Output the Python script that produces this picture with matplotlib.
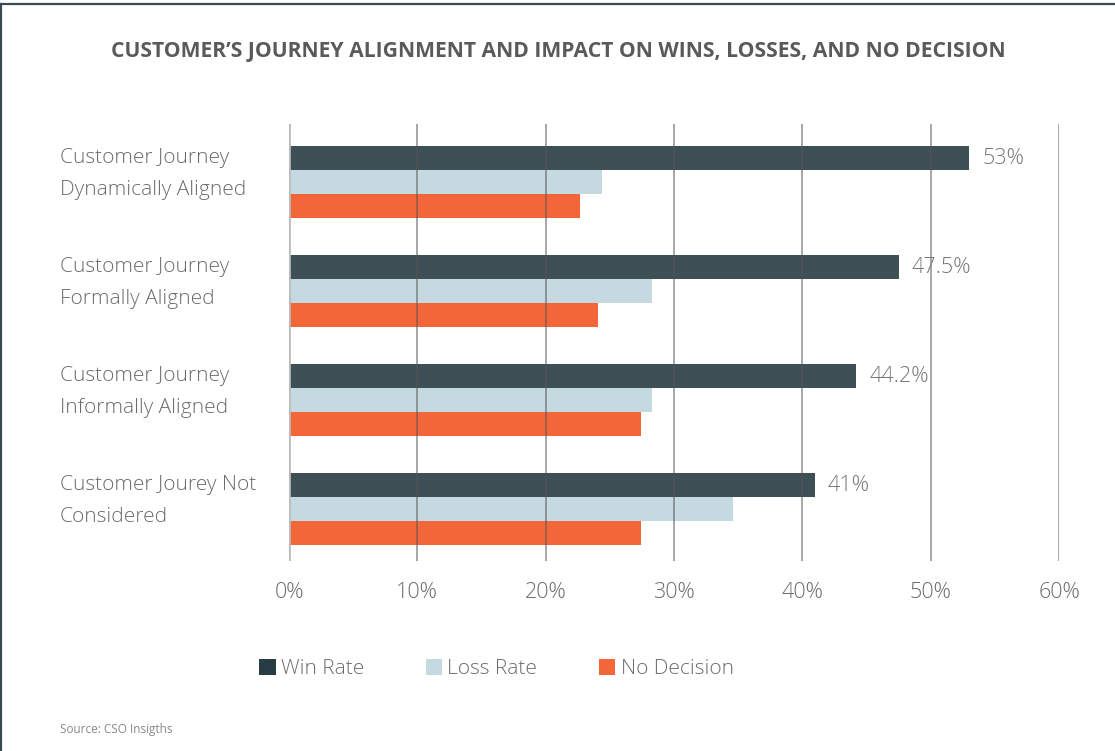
import matplotlib
matplotlib.use("Agg")
import matplotlib.pyplot as plt
from matplotlib.patches import Patch
from matplotlib.lines import Line2D
from matplotlib.transforms import blended_transform_factory
import numpy as np

# Dati
categories = ["Customer Journey\nDynamically Aligned",
              "Customer Journey\nFormally Aligned",
              "Customer Journey\nInformally Aligned",
              "Customer Jourey Not\nConsidered"]
win_rate = [53, 47.5, 44.2, 41]
loss_rate = [24.4, 28.3, 28.3, 34.6]
no_decision = [22.7, 24.1, 27.4, 27.4]
win_labels = ["53%", "47.5%", "44.2%", "41%"]
x_ticks = [0, 10, 20, 30, 40, 50, 60]
series_names = ["Win Rate", "Loss Rate", "No Decision"]

title = "CUSTOMER\u2019S JOURNEY ALIGNMENT AND IMPACT ON WINS, LOSSES, AND NO DECISION"
source = "Source: CSO Insigths"

# Stile
plt.rcParams['font.family'] = ['Open Sans', 'DejaVu Sans']
color_win = '#3e4f56'
color_loss = '#c5d9e1'
color_nd = '#f2663a'
text_color = '#6b6b6b'

W, H = 1115, 751
fig = plt.figure(figsize=(W / 100, H / 100), dpi=100)
ax = fig.add_axes([289 / W, 1 - 561 / H, (1059 - 289) / W, (561 - 124) / H])

y = np.arange(len(categories))
h = 0.22
ax.barh(y - h, win_rate, height=h, color=color_win, zorder=2)
ax.barh(y, loss_rate, height=h, color=color_loss, zorder=2)
ax.barh(y + h, no_decision, height=h, color=color_nd, zorder=2)

ax.set_xlim(0, 60)
ax.set_ylim(3.477, -0.532)

# griglia verticale sopra le barre
for t in x_ticks:
    if t == 0:
        ax.axvline(t, color='#bbbbbb', lw=2, zorder=3)
    else:
        ax.axvline(t, color='#555555', lw=1.2, alpha=0.6, zorder=3)

for s in ax.spines.values():
    s.set_visible(False)
ax.set_yticks([])
ax.set_xticks(x_ticks)
ax.set_xticklabels([f"{t}%" for t in x_ticks], fontsize=15.5, color=text_color, fontweight='light')
ax.tick_params(axis='x', length=0, pad=15)

# etichette valori win
for val, lab, yy in zip(win_rate, win_labels, y - h):
    ax.text(val + 1.0, yy, lab, va='center', ha='left', fontsize=15.5,
            color='#777777', fontweight='light')

# etichette categorie
trans = blended_transform_factory(fig.transFigure, ax.transData)
for yy, lab in zip(y, categories):
    ax.text(60 / W, yy - 0.075, lab, transform=trans, ha='left', va='center',
            fontsize=15, color=text_color, linespacing=1.78, fontweight='light')

# titolo
fig.text(558 / W, 1 - 52 / H, title, ha='center', va='center', fontsize=15.2,
         fontweight='bold', color='#5a5a5a')

# legenda
handles = [Patch(facecolor='#293b43'), Patch(facecolor=color_loss), Patch(facecolor=color_nd)]
fig.legend(handles, series_names, loc='center left', bbox_to_anchor=(259 / W, 1 - 669 / H),
           ncol=3, frameon=False, handlelength=0.8, handleheight=0.8,
           handletextpad=0.25, columnspacing=2.95, borderpad=0, borderaxespad=0,
           labelcolor=text_color, prop={'weight': 'light', 'size': 15})

fig.text(60 / W, 1 - 730 / H, source, ha='left', va='center', fontsize=8.5, color='#888888')

# bordo
fig.add_artist(Line2D([0, 1], [1 - 3.5 / H, 1 - 3.5 / H], transform=fig.transFigure,
                      color='#3a4a52', lw=1.6))
fig.add_artist(Line2D([1.2 / W, 1.2 / W], [0, 1 - 3.5 / H], transform=fig.transFigure,
                      color='#3a4a52', lw=1.6))

fig.savefig("out.png", dpi=100)
